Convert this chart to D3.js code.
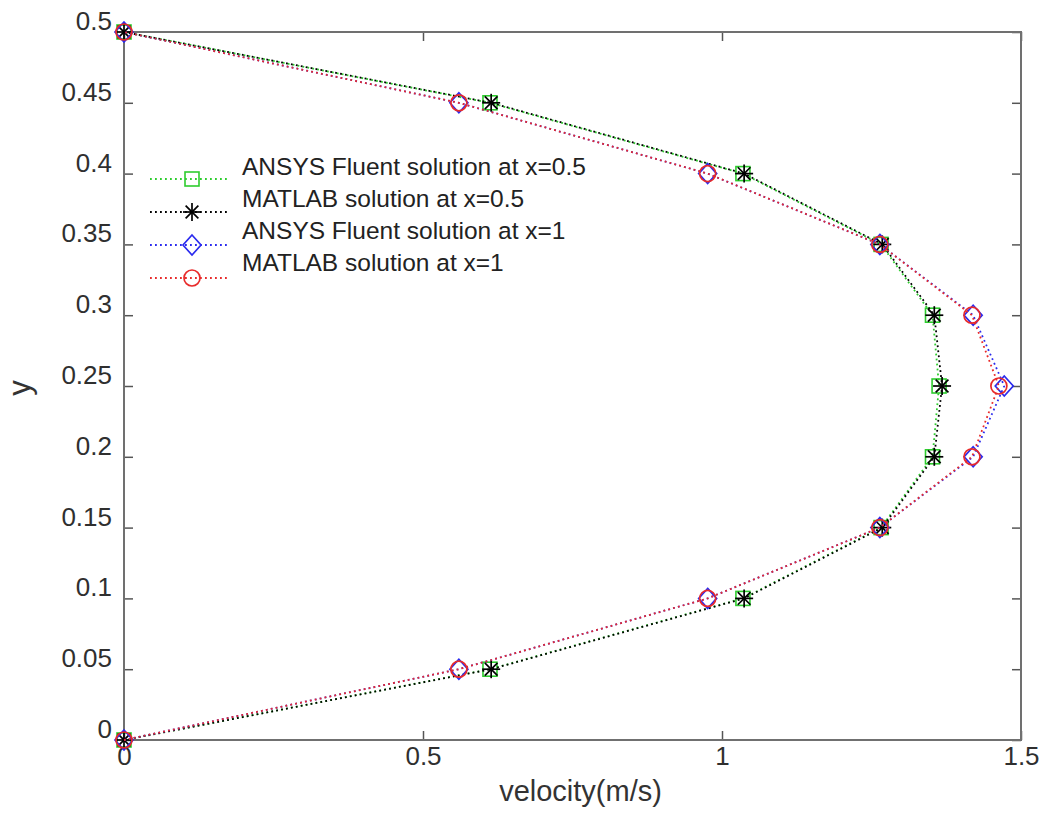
<!DOCTYPE html>
<html>
<head>
<meta charset="utf-8">
<script src="https://cdn.jsdelivr.net/npm/d3@7"></script>
<style>
  body { margin: 0; background: #fff; }
  svg { font-family: "Liberation Sans", Arial, sans-serif; }
  .tick text { fill: #2f2f2f; font-size: 26px; }
</style>
</head>
<body>
<script>
var yPos, velFluent05, velMatlab05, velFluent1, velMatlab1, xTicks, yTicks, seriesNames;

// y stations across the channel
yPos = [0, 0.05, 0.1, 0.15, 0.2, 0.25, 0.3, 0.35, 0.4, 0.45, 0.5];

velFluent05 = [0, 0.612, 1.035, 1.266, 1.352, 1.363, 1.352, 1.266, 1.035, 0.612, 0];
velMatlab05 = [0, 0.614, 1.037, 1.268, 1.355, 1.368, 1.355, 1.268, 1.037, 0.614, 0];
velFluent1  = [0, 0.560, 0.976, 1.264, 1.420, 1.472, 1.420, 1.264, 0.976, 0.560, 0];
velMatlab1  = [0, 0.560, 0.976, 1.264, 1.418, 1.463, 1.418, 1.264, 0.976, 0.560, 0];

xTicks = [0, 0.5, 1, 1.5];
yTicks = [0, 0.05, 0.1, 0.15, 0.2, 0.25, 0.3, 0.35, 0.4, 0.45, 0.5];

seriesNames = [
  'ANSYS Fluent solution at x=0.5',
  'MATLAB solution at x=0.5',
  'ANSYS Fluent solution at x=1',
  'MATLAB solution at x=1'
];

var series = [
  { name: seriesNames[0], vals: velFluent05, color: '#2ecc2e', marker: 'square' },
  { name: seriesNames[1], vals: velMatlab05, color: '#000000', marker: 'star' },
  { name: seriesNames[2], vals: velFluent1,  color: '#2a2aee', marker: 'diamond' },
  { name: seriesNames[3], vals: velMatlab1,  color: '#e82a2a', marker: 'circle' }
];

var W = 1047, H = 814;
var m = { left: 124, right: 1021, top: 32, bottom: 740 };

var x = d3.scaleLinear().domain([0, 1.5]).range([m.left, m.right]);
var y = d3.scaleLinear().domain([0, 0.5]).range([m.bottom, m.top]);

var svg = d3.select('body').append('svg')
  .attr('width', W)
  .attr('height', H);

// axes, MATLAB style: ticks inside, on all four sides
function styleAxis(g) {
  g.select('.domain').remove();
  g.selectAll('.tick line').attr('stroke', '#555').attr('stroke-width', 1.5);
}

svg.append('g')
  .attr('transform', 'translate(0,' + m.bottom + ')')
  .call(d3.axisBottom(x).tickValues(xTicks).tickSizeInner(-9).tickPadding(7).tickFormat(d3.format('')))
  .call(styleAxis);

svg.append('g')
  .attr('transform', 'translate(0,' + m.top + ')')
  .call(d3.axisTop(x).tickValues(xTicks).tickSizeInner(-9).tickFormat(''))
  .call(styleAxis);

var yAxisG = svg.append('g')
  .attr('transform', 'translate(' + m.left + ',0)')
  .call(d3.axisLeft(y).tickValues(yTicks).tickSizeInner(-9).tickPadding(12).tickFormat(d3.format('')))
  .call(styleAxis);
// labels sit just above their tick
yAxisG.selectAll('.tick text').attr('dy', '-0.1em');

svg.append('g')
  .attr('transform', 'translate(' + m.right + ',0)')
  .call(d3.axisRight(y).tickValues(yTicks).tickSizeInner(-9).tickFormat(''))
  .call(styleAxis);

svg.selectAll('.tick text').attr('font-family', null).attr('font-size', null);

// box
svg.append('rect')
  .attr('x', m.left).attr('y', m.top)
  .attr('width', m.right - m.left).attr('height', m.bottom - m.top)
  .attr('fill', 'none').attr('stroke', '#707070').attr('stroke-width', 2);

// labels
svg.append('text')
  .attr('x', (m.left + m.right) / 2 + 8).attr('y', 801)
  .attr('text-anchor', 'middle').attr('font-size', 29).attr('fill', '#333')
  .text('velocity(m/s)');

svg.append('text')
  .attr('transform', 'translate(30,388) rotate(-90)')
  .attr('text-anchor', 'middle').attr('font-size', 31).attr('fill', '#333')
  .text('y');

function drawMarker(g, type, color, cx, cy) {
  if (type === 'square') {
    g.append('rect').attr('x', cx - 7).attr('y', cy - 7).attr('width', 14).attr('height', 14)
      .attr('fill', 'none').attr('stroke', color).attr('stroke-width', 1.6);
  } else if (type === 'diamond') {
    g.append('path').attr('d', 'M' + cx + ',' + (cy - 10) + 'L' + (cx + 9) + ',' + cy + 'L' + cx + ',' + (cy + 10) + 'L' + (cx - 9) + ',' + cy + 'Z')
      .attr('fill', 'none').attr('stroke', color).attr('stroke-width', 1.7);
  } else if (type === 'circle') {
    g.append('circle').attr('cx', cx).attr('cy', cy).attr('r', 8)
      .attr('fill', 'none').attr('stroke', color).attr('stroke-width', 1.7);
  } else if (type === 'star') {
    var r = 9, k, a;
    for (k = 0; k < 4; k++) {
      a = k * Math.PI / 4;
      g.append('line')
        .attr('x1', cx - r * Math.cos(a)).attr('y1', cy - r * Math.sin(a))
        .attr('x2', cx + r * Math.cos(a)).attr('y2', cy + r * Math.sin(a))
        .attr('stroke', color).attr('stroke-width', 1.7);
    }
  }
}

var line = d3.line()
  .x(function(d) { return x(d[0]); })
  .y(function(d) { return y(d[1]); });

series.forEach(function(s) {
  var pts = s.vals.map(function(v, i) { return [v, yPos[i]]; });
  var g = svg.append('g').attr('class', 'series');
  g.append('path')
    .attr('d', line(pts))
    .attr('fill', 'none')
    .attr('stroke', s.color)
    .attr('stroke-width', 1.8)
    .attr('stroke-dasharray', '1.8,3.2');
  pts.forEach(function(p) {
    drawMarker(g, s.marker, s.color, x(p[0]), y(p[1]));
  });
});

// legend (no box)
var legend = svg.append('g').attr('class', 'legend');
series.forEach(function(s, i) {
  var ty = 175 + i * 32;
  var my = 179 + i * 33;
  legend.append('line')
    .attr('x1', 150).attr('x2', 229).attr('y1', my).attr('y2', my)
    .attr('stroke', s.color).attr('stroke-width', 1.8).attr('stroke-dasharray', '1.8,3.2');
  drawMarker(legend, s.marker, s.color, 192, my);
  legend.append('text')
    .attr('x', 242).attr('y', ty)
    .attr('font-size', 24.5).attr('fill', '#222')
    .text(s.name);
});
</script>
</body>
</html>
